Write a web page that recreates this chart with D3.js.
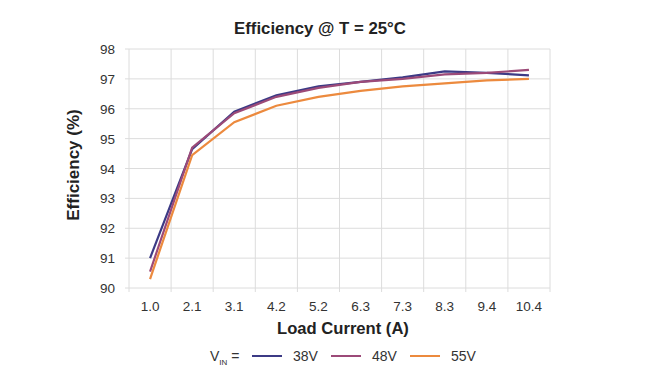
<!DOCTYPE html>
<html><head><meta charset="utf-8">
<script src="https://cdn.jsdelivr.net/npm/d3@7"></script>
<style>body{margin:0;background:#fff;}svg{display:block;font-family:"Liberation Sans",Arial,sans-serif;}</style>
</head><body>
<svg id="c" width="647" height="392"></svg>
<script>
const categories = ["1.0","2.1","3.1","4.2","5.2","6.3","7.3","8.3","9.4","10.4"];
const v38 = [91.0,94.65,95.9,96.45,96.75,96.9,97.05,97.25,97.2,97.12];
const v48 = [90.55,94.7,95.85,96.4,96.7,96.9,97.0,97.15,97.2,97.3];
const v55 = [90.3,94.45,95.55,96.1,96.4,96.6,96.75,96.85,96.95,97.0];
const yTicks = [90,91,92,93,94,95,96,97,98];
const seriesNames = ["38V","48V","55V"];
const colors = ["#3c3a85","#9c4a78","#ec8a3e"];

const svg = d3.select("#c");
const L=129,R=550,T=49,B=288;
const x = d3.scaleBand().domain(categories).range([L,R]);
const y = d3.scaleLinear().domain([90,98]).range([B,T]);

// grid
const g = svg.append("g");
g.selectAll(".h").data(yTicks).join("line")
 .attr("x1",L-4).attr("x2",R).attr("y1",d=>y(d)).attr("y2",d=>y(d))
 .attr("stroke","#dcdcdc").attr("stroke-width",1);
const bounds = categories.map(c=>x(c)).concat([R]);
g.selectAll(".v").data(bounds).join("line")
 .attr("x1",d=>d).attr("x2",d=>d).attr("y1",T).attr("y2",B+4)
 .attr("stroke","#dcdcdc").attr("stroke-width",1);

// axes labels
svg.append("g").selectAll("text").data(yTicks).join("text")
 .attr("x",115).attr("y",d=>y(d)+5).attr("text-anchor","end")
 .attr("font-size",13.5).attr("fill","#333").text(d=>d);
svg.append("g").selectAll("text").data(categories).join("text")
 .attr("x",d=>x(d)+x.bandwidth()/2).attr("y",311).attr("text-anchor","middle")
 .attr("font-size",13.5).attr("fill","#333").text(d=>d);

// lines
const line = d3.line().x((d,i)=>x(categories[i])+x.bandwidth()/2).y(d=>y(d));
[v38,v48,v55].forEach((s,i)=>{
  svg.append("path").datum(s).attr("d",line).attr("fill","none")
   .attr("stroke",colors[i]).attr("stroke-width",2.2);
});

// titles
svg.append("text").attr("x",320).attr("y",34).attr("text-anchor","middle")
 .attr("font-size",16.8).attr("font-weight","bold").attr("fill","#222").text("Efficiency @ T = 25°C");
svg.append("text").attr("x",343).attr("y",334).attr("text-anchor","middle")
 .attr("font-size",16.6).attr("font-weight","bold").attr("fill","#222").text("Load Current (A)");
svg.append("text").attr("transform","translate(79,165) rotate(-90)").attr("text-anchor","middle")
 .attr("font-size",17).attr("font-weight","bold").attr("fill","#222").text("Efficiency (%)");

// legend
const lg = svg.append("g");
const vt = lg.append("text").attr("x",210).attr("y",361).attr("font-size",14).attr("fill","#333");
vt.append("tspan").text("V");
vt.append("tspan").attr("font-size",8).attr("dy",4).text("IN");
vt.append("tspan").attr("dy",-4).text(" =");
const lx = [252,331,410];
seriesNames.forEach((n,i)=>{
  lg.append("line").attr("x1",lx[i]).attr("x2",lx[i]+30).attr("y1",356).attr("y2",356)
   .attr("stroke",colors[i]).attr("stroke-width",2);
  lg.append("text").attr("x",lx[i]+41).attr("y",361).attr("font-size",14).attr("fill","#333").text(n);
});
</script>
</body></html>
